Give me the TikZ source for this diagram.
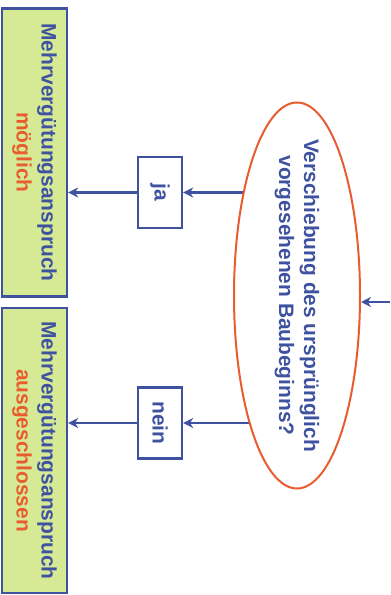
\documentclass[tikz,border=0pt]{standalone}
\usepackage{fontspec}
\setmainfont{Liberation Sans}
\usetikzlibrary{shapes.geometric,backgrounds,arrows.meta}
\definecolor{dunkelblau}{RGB}{62,82,160}
\definecolor{hellgruen}{RGB}{214,234,150}
\definecolor{rotorange}{RGB}{232,92,48}

\begin{document}
\begin{tikzpicture}[%
      x=1bp, y=1bp,
      font=\fontsize{21}{25}\selectfont\bfseries,
      ergebnis/.style={draw=dunkelblau, line width=2.4bp, fill=hellgruen, rotate=-90,
        minimum width=288bp, minimum height=65bp, inner sep=0pt, align=center, text=dunkelblau},
      antwort/.style={draw=dunkelblau, line width=2.4bp, fill=white, rotate=-90,
        minimum width=71bp, minimum height=44bp, inner sep=0pt, text=dunkelblau},
      pfeil/.style={draw=dunkelblau, line width=2.7bp, -{Stealth[length=10bp,width=10bp]}},
      ]
      \useasboundingbox (0,0) rectangle (390,-595);

      \node [ellipse, draw=rotorange, line width=2bp, fill=white, rotate=-90,
        minimum width=386bp, minimum height=126bp, inner sep=0pt] (frage) at (297,-295.5) {};
      \node [rotate=-90, align=center, text=dunkelblau] (frage text) at (frage)
        {Verschiebung des ursprünglich\\vorgesehenen Baubeginns?};

      \node [antwort] (ja) at (160,-192.5) {ja};
      \node [antwort] (nein) at (160,-423) {nein};

      \node [ergebnis] (moeglich) at (34.5,-152.5)
        {Mehrvergütungsanspruch\\\textcolor{rotorange}{möglich}};
      \node [ergebnis, minimum width=285bp] (ausgeschl) at (34.5,-450.5)
        {Mehrvergütungsanspruch\\\textcolor{rotorange}{ausgeschlossen}};

      \coordinate (start) at (390,-302);
      \draw [pfeil] (start) -- (start -| frage.north);

      \begin{scope}[on background layer]
        \draw [pfeil] (ja -| frage.center) -- (ja.north);
        \draw [pfeil] (nein -| frage.center) -- (nein.north);
      \end{scope}

      \draw [pfeil] (ja.south) -- (ja.south -| moeglich.north);
      \draw [pfeil] (nein.south) -- (nein.south -| ausgeschl.north);
\end{tikzpicture}
\end{document}
